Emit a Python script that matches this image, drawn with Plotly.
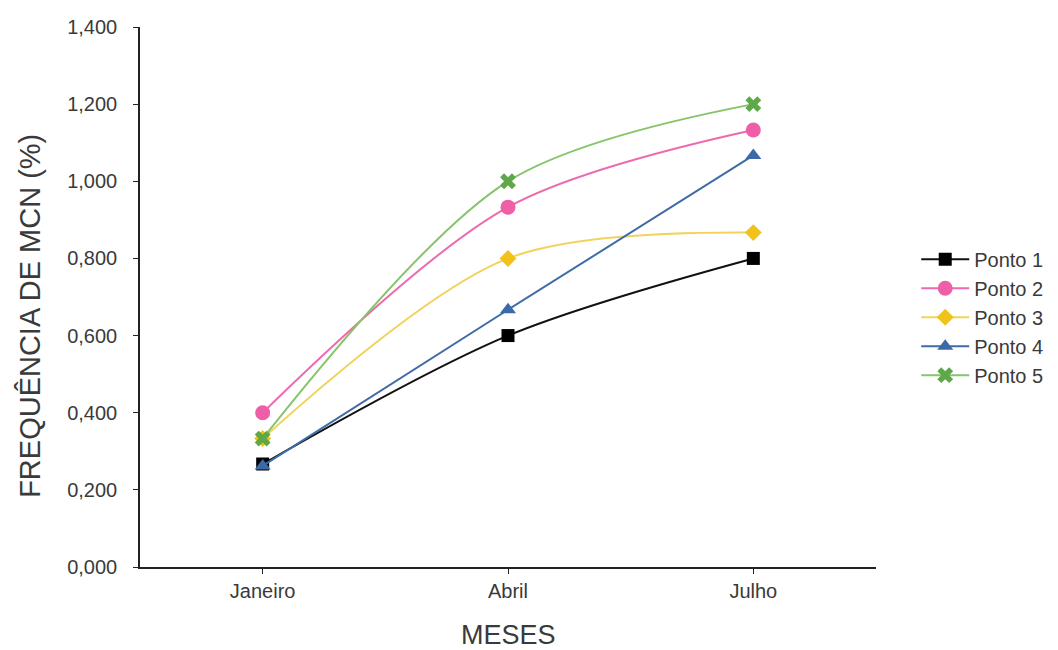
import plotly.graph_objects as go

meses = ["Janeiro", "Abril", "Julho"]
ponto_1 = [0.267, 0.600, 0.800]
ponto_2 = [0.400, 0.933, 1.133]
ponto_3 = [0.333, 0.800, 0.867]
ponto_4 = [0.262, 0.667, 1.067]
ponto_5 = [0.333, 1.000, 1.200]

y_ticks = [0.0, 0.2, 0.4, 0.6, 0.8, 1.0, 1.2, 1.4]
y_tick_text = ["0,000", "0,200", "0,400", "0,600", "0,800", "1,000", "1,200", "1,400"]

FONT = "Liberation Sans, Arial, sans-serif"
TXT = "#3a3a3a"

series = [
    ("Ponto 1", ponto_1, "#111111", "#000000", "square", 13),
    ("Ponto 2", ponto_2, "#EE6AAE", "#EE5FA7", "circle", 15),
    ("Ponto 3", ponto_3, "#F1D25A", "#F2C21C", "diamond", 13),
    ("Ponto 4", ponto_4, "#3F6BA6", "#3C6AA8", "triangle-up", 14),
    ("Ponto 5", ponto_5, "#86C46A", "#5FA84A", "x", 14),
]

fig = go.Figure()
for name, vals, lcol, mcol, sym, size in series:
    fig.add_trace(go.Scatter(
        x=meses, y=vals, name=name, mode="lines+markers",
        line=dict(color=lcol, width=2, shape="spline", smoothing=0.9),
        marker=dict(symbol=sym, size=size, color=mcol, line=dict(width=0)),
    ))

fig.update_layout(
    width=1058, height=650,
    margin=dict(l=140, r=182, t=27, b=83, autoexpand=False),
    paper_bgcolor="white", plot_bgcolor="white",
    font=dict(family=FONT, size=18, color=TXT),
    showlegend=True,
    legend=dict(
        xref="container", yref="container",
        x=0.866, y=0.512, xanchor="left", yanchor="middle",
        font=dict(family=FONT, size=20, color=TXT),
        tracegroupgap=0, itemwidth=48,
        bgcolor="rgba(0,0,0,0)",
    ),
    xaxis=dict(
        type="category", range=[-0.5, 2.5],
        showline=True, linecolor="#222222", linewidth=1.5,
        ticks="outside", ticklen=5, tickcolor="#222222",
        showgrid=False, zeroline=False,
        tickfont=dict(family=FONT, size=20, color=TXT),
        ticklabelstandoff=0,
    ),
    yaxis=dict(
        range=[0, 1.4],
        tickvals=y_ticks, ticktext=y_tick_text,
        showline=True, linecolor="#222222", linewidth=1.5,
        ticks="outside", ticklen=5, tickcolor="#222222",
        showgrid=False, zeroline=False,
        tickfont=dict(family=FONT, size=20, color=TXT),
        ticklabelstandoff=12,
    ),
    annotations=[
        dict(text="MESES", xref="paper", yref="paper", x=0.5, y=-0.126,
             xanchor="center", yanchor="middle", showarrow=False,
             font=dict(family=FONT, size=27, color=TXT)),
        dict(text="FREQUÊNCIA DE MCN (%)", xref="paper", yref="paper",
             x=-0.1495, y=0.465, xanchor="center", yanchor="middle",
             textangle=-90, showarrow=False,
             font=dict(family=FONT, size=29, color=TXT)),
    ],
)

fig.write_html("out.html")
